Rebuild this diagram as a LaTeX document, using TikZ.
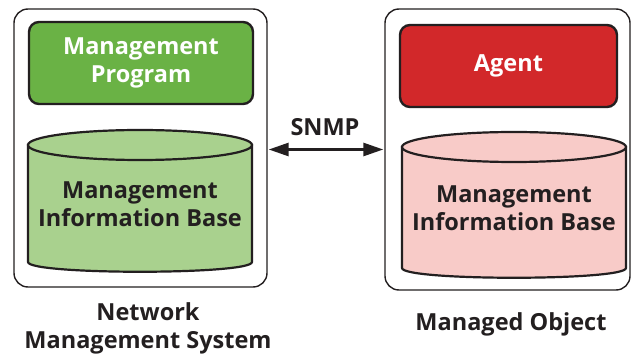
\documentclass[tikz,border=0pt]{standalone}
\usepackage{fontspec}
\setmainfont{Open Sans}
\usetikzlibrary{arrows.meta}
\definecolor{ink}{HTML}{231F20}
\definecolor{progfill}{HTML}{6AB245}
\definecolor{mibgreen}{HTML}{A9D18E}
\definecolor{agentfill}{HTML}{D2282A}
\definecolor{mibpink}{HTML}{F8CBC8}
\tikzset{
  frame/.style={draw=ink, line width=1.4pt, rounded corners=14pt, fill=white},
  unit/.style={draw=ink, line width=2.4pt, rounded corners=10pt, text=white,
    font=\fontsize{23.5}{28}\selectfont\bfseries, align=center},
  label/.style={text=ink, font=\fontsize{23.5}{28}\selectfont\bfseries, align=center},
  mibline/.style={draw=ink, line width=2.2pt},
  bigtri/.tip={Triangle[length=20pt,width=13pt]},
}
\begin{document}
\begin{tikzpicture}[x=1pt, y=-1pt]
\useasboundingbox (0,0) rectangle (637,358);
% outer frames
\node[frame, minimum width=253pt, minimum height=278pt] (nms) at (140.5,148) {};
\node[frame, minimum width=245pt, minimum height=281pt] (mo) at (507.5,149.5) {};
% management program and agent
\node[unit, fill=progfill, minimum width=224pt, minimum height=82pt] (prog) at (141,63) {Management\\Program};
\node[unit, fill=agentfill, minimum width=217pt, minimum height=82pt] (agent) at (508.5,66) {Agent};
% MIB cylinders
\path[mibline, fill=mibgreen] (28,145) -- (28,262) .. controls (28,275) and (252,275) .. (252,262) -- (252,145) -- cycle;
\draw[mibline, fill=mibgreen] (140,145) ellipse[x radius=112, y radius=15];
\path[mibline, fill=mibpink] (402,147) -- (402,268) .. controls (402,281) and (626,281) .. (626,268) -- (626,147) -- cycle;
\draw[mibline, fill=mibpink] (514,147) ellipse[x radius=112, y radius=15];
\node[label] (mibL) at (140,204) {Management\\Information Base};
\node[label] (mibR) at (514,208) {Management\\Information Base};
% captions
\node[label] (nmsCap) at (148,328) {Network\\Management System};
\node[label] (moCap) at (511,324) {Managed Object};
% SNMP link
\coordinate (la) at (nms.east |- 0,149.5);
\coordinate (ra) at (mo.west |- 0,149.5);
\draw[ink, line width=2.8pt, {bigtri}-{bigtri}] ([xshift=1pt]la) -- ([xshift=-1pt]ra);
\node[label] (snmp) at (325,127) {SNMP};
\end{tikzpicture}
\end{document}
